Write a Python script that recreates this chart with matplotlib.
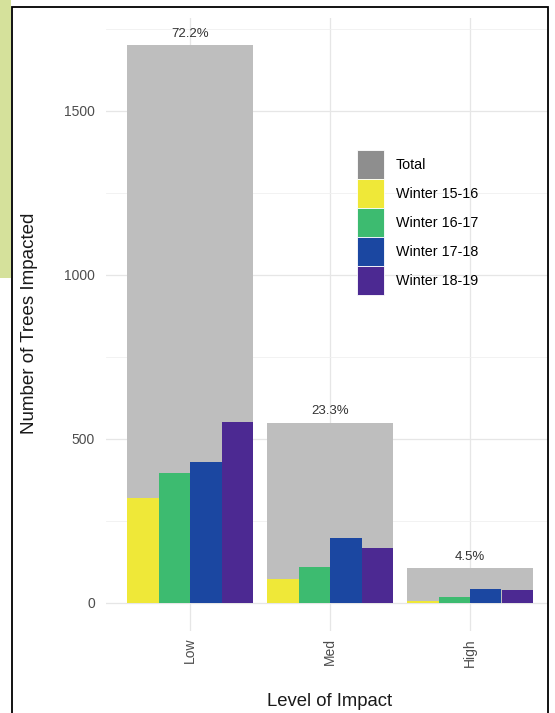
import numpy as np
import matplotlib.pyplot as plt
from matplotlib.patches import Patch, Rectangle

plt.rcParams['font.family'] = ['Liberation Sans', 'DejaVu Sans']

# 데이터
levels = ['Low', 'Med', 'High']
total = [1700, 549, 106]
seasons = ['Winter 15-16', 'Winter 16-17', 'Winter 17-18', 'Winter 18-19']
w1516 = [320, 72, 5]
w1617 = [397, 110, 18]
w1718 = [431, 199, 44]
w1819 = [552, 168, 39]
season_vals = [w1516, w1617, w1718, w1819]
season_colors = ['#efe838', '#3dbb70', '#1b47a1', '#4c2992']

W, H = 555, 713
fig = plt.figure(figsize=(W / 100, H / 100), dpi=100)

# 왼쪽 초록 띠와 테두리
fig.add_artist(Rectangle((0, 1 - 278 / H), 11 / W, 278 / H, transform=fig.transFigure,
                         facecolor='#d5e19b', edgecolor='none'))
fig.add_artist(Rectangle((12 / W, -0.01), (548 - 12) / W, 1.01 - 7 / H, transform=fig.transFigure,
                         facecolor='none', edgecolor='black', linewidth=1.3))

ax = fig.add_axes([106 / W, 1 - 631 / H, (548 - 106) / W, (631 - 17.5) / H])

x = np.arange(len(levels))
ax.bar(x, total, width=0.9, color='#bebebe', zorder=2)
sub_w = 0.9 / 4
for i, (vals, c) in enumerate(zip(season_vals, season_colors)):
    ax.bar(x - 0.45 + sub_w * (i + 0.5), vals, width=sub_w, color=c, zorder=3)

pct = np.array(total) / sum(total) * 100
for xi, t, p in zip(x, total, pct):
    ax.annotate(f'{p:.1f}%', (xi, t), xytext=(0, 4), textcoords='offset points',
                ha='center', va='bottom', fontsize=9.5, color='#333333')

ax.set_xlim(-0.6, 2 + (548 - 470) / 140)
ax.set_ylim(-85.4, 1785)
ax.set_xticks(x)
ax.set_xticklabels(levels, rotation=90, fontsize=10, color='#4d4d4d')
ax.set_yticks([0, 500, 1000, 1500])
ax.set_yticks([250, 750, 1250, 1750], minor=True)
ax.tick_params(axis='both', which='both', length=0, labelsize=10, labelcolor='#4d4d4d')
ax.tick_params(axis='x', pad=5)
ax.tick_params(axis='y', pad=8)
ax.grid(True, which='major', color='#e6e6e6', linewidth=0.9, zorder=0)
ax.grid(True, which='minor', axis='y', color='#f0f0f0', linewidth=0.6, zorder=0)
ax.set_axisbelow(True)
for s in ax.spines.values():
    s.set_visible(False)

fig.text(30 / W, 1 - 323 / H, 'Number of Trees Impacted', rotation=90,
         ha='center', va='center', fontsize=13.5, color='#1a1a1a')
fig.text(330 / W, 1 - 702 / H, 'Level of Impact', ha='center', va='center',
         fontsize=13.3, color='#1a1a1a')

handles = [Patch(facecolor='#8e8e8e', edgecolor='white', linewidth=0.6)]
handles += [Patch(facecolor=c, edgecolor='white', linewidth=0.6) for c in season_colors]
fig.legend(handles, ['Total'] + seasons, loc='upper left',
           bbox_to_anchor=(357 / W, 1 - 150 / H), frameon=False, fontsize=10.3,
           handlelength=1.9, handleheight=2.75, handletextpad=0.8,
           labelspacing=0.0, borderpad=0, borderaxespad=0)

plt.savefig('out.png', dpi=100)
